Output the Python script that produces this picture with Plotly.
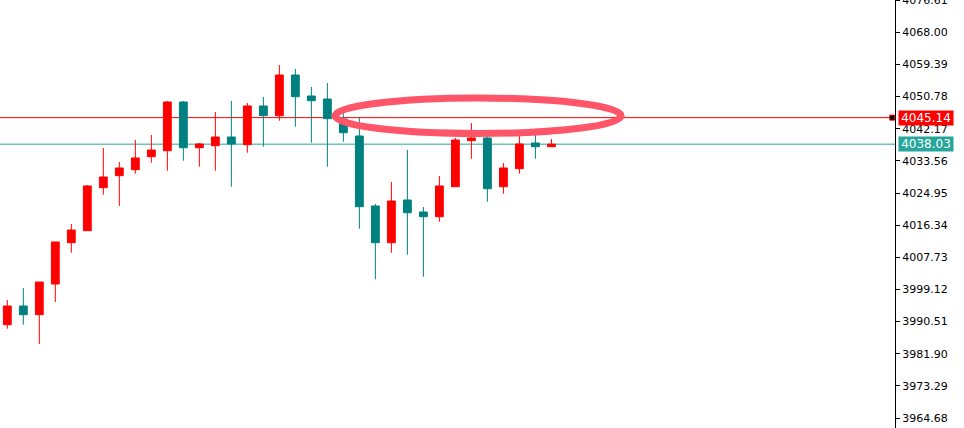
import plotly.graph_objects as go

# ---- data ----
bars = list(range(35))
opens = [3989.67, 3994.68, 3992.35, 4000.57, 4011.64, 4014.85, 4026.37, 4029.59, 4031.19, 4034.68,
         4036.28, 4049.33, 4037.09, 4037.62, 4039.95, 4037.89, 4048.26, 4045.66, 4056.56, 4050.94,
         4050.13, 4044.77, 4040.22, 4021.47, 4011.64, 4023.08, 4019.86, 4018.60, 4026.64, 4038.96,
         4039.69, 4026.64, 4031.46, 4038.35, 4037.35]
highs = [3996.29, 3999.50, 4001.11, 4011.83, 4016.65, 4027.09, 4037.01, 4033.26, 4039.15, 4040.49,
         4049.60, 4049.60, 4038.35, 4046.65, 4049.60, 4049.06, 4050.67, 4059.24, 4058.17, 4053.35,
         4054.42, 4046.38, 4045.12, 4022.00, 4027.90, 4036.47, 4021.20, 4029.51, 4039.69, 4043.70,
         4040.80, 4032.99, 4040.20, 4042.10, 4039.42]
lows = [3988.60, 3989.67, 3984.50, 3995.75, 4008.96, 4014.85, 4024.50, 4021.47, 4030.12, 4033.07,
        4030.93, 4033.60, 4032.00, 4030.93, 4026.64, 4035.75, 4037.35, 4044.32, 4042.71, 4038.43,
        4032.00, 4038.69, 4015.39, 4001.83, 4008.96, 4008.42, 4002.53, 4017.26, 4026.64, 4034.14,
        4022.62, 4024.76, 4030.12, 4034.14, 4037.35]
closes = [3994.68, 3992.35, 4001.11, 4011.83, 4015.04, 4026.83, 4029.24, 4031.65, 4034.33, 4036.47,
          4049.33, 4037.09, 4038.08, 4039.95, 4038.08, 4048.26, 4045.66, 4056.56, 4050.75, 4049.68,
          4044.86, 4041.10, 4021.28, 4011.64, 4022.81, 4019.67, 4018.60, 4026.83, 4039.15, 4039.69,
          4026.10, 4031.65, 4038.08, 4037.35, 4038.03]

tick_vals = [4076.61, 4068.00, 4059.39, 4050.78, 4042.17, 4033.56, 4024.95, 4016.34,
             4007.73, 3999.12, 3990.51, 3981.90, 3973.29, 3964.68]
tick_text = [f"{v:.2f}" for v in tick_vals]

level_price = 4045.14
bid_price = 4038.03

# annotation ellipse (data coords)
ellipse_x = [20.48, 38.36]
ellipse_y = [4040.89, 4050.40]

RED = "#ff0000"
TEAL = "#008080"
BID = "#26a69a"
ELLIPSE = "#ff5569"

fig = go.Figure()
fig.add_trace(go.Candlestick(
    x=bars, open=opens, high=highs, low=lows, close=closes,
    increasing=dict(line=dict(color=RED, width=1), fillcolor=RED),
    decreasing=dict(line=dict(color=TEAL, width=1), fillcolor=TEAL),
    whiskerwidth=0, showlegend=False, hoverinfo="skip",
))

x_range = [-0.456, 55.47]

# end marker of level line
fig.add_trace(go.Scatter(
    x=[55.3], y=[level_price], mode="markers",
    marker=dict(symbol="square", size=5, color="black", line=dict(color=RED, width=1)),
    showlegend=False, hoverinfo="skip", cliponaxis=False,
))

fig.add_shape(type="line", xref="paper", x0=0, x1=1, yref="y", y0=level_price, y1=level_price,
              line=dict(color=RED, width=1), layer="below")
fig.add_shape(type="line", xref="paper", x0=0, x1=1, yref="y", y0=bid_price, y1=bid_price,
              line=dict(color=BID, width=1), layer="below")
fig.add_shape(type="circle", xref="x", yref="y",
              x0=ellipse_x[0], x1=ellipse_x[1], y0=ellipse_y[0], y1=ellipse_y[1],
              line=dict(color=ELLIPSE, width=7), layer="above")

for price, col in [(level_price, RED), (bid_price, BID)]:
    fig.add_annotation(x=1, xref="paper", y=price, yref="y", text=f"{price:.2f}",
                       showarrow=False, xanchor="left", xshift=3, bgcolor=col,
                       font=dict(family="DejaVu Sans", size=12, color="white"),
                       width=54, height=14, borderpad=0, align="center")

fig.update_layout(
    width=964, height=428,
    margin=dict(l=0, r=69, t=0, b=0, autoexpand=False),
    paper_bgcolor="white", plot_bgcolor="white",
    font=dict(family="DejaVu Sans", size=11, color="black"),
    xaxis=dict(range=x_range, visible=False, rangeslider=dict(visible=False), fixedrange=True,
               automargin=False),
    yaxis=dict(range=[3962.0, 4076.65], side="right", showgrid=False, zeroline=False,
               showline=True, linecolor="black", linewidth=1, automargin=False,
               ticks="outside", ticklen=4, tickcolor="black",
               tickvals=tick_vals, ticktext=tick_text, ticklabeloverflow="allow",
               tickfont=dict(family="DejaVu Sans", size=11, color="black")),
)

fig.write_html("out.html", config={"displayModeBar": False},
               post_script="document.body.style.margin='0';document.body.style.overflow='hidden';")
